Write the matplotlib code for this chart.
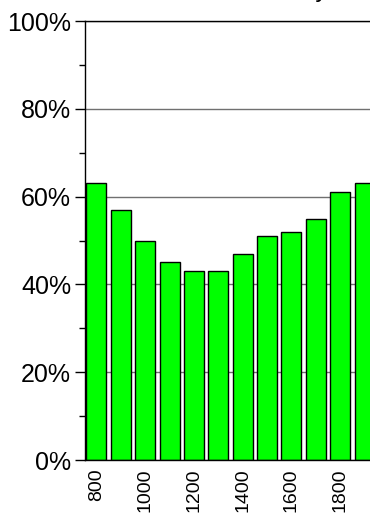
import numpy as np
import matplotlib.pyplot as plt
from matplotlib.ticker import MultipleLocator, PercentFormatter

plt.rcParams['font.family'] = ['Liberation Sans', 'DejaVu Sans']

# data
wavelength = [800, 900, 1000, 1100, 1200, 1300, 1400, 1500, 1600, 1700, 1800, 1900]
share = [63, 57, 50, 45, 43, 43, 47, 51, 52, 55, 61, 63]
tick_labels = ['800', '1000', '1200', '1400', '1600', '1800']

W, H = 370, 517
fig = plt.figure(figsize=(W / 100, H / 100), dpi=100)
# axes run past the right edge of the figure, like the original
ax = fig.add_axes([85 / W, 57 / H, 291 / W, 439 / H])

ax.bar(wavelength, share, width=82, color='#00ff00', edgecolor='black',
       linewidth=1.0, zorder=2)

ax.set_xlim(753, 1947)
ax.set_ylim(0, 100)
ax.yaxis.set_major_locator(MultipleLocator(20))
ax.yaxis.set_minor_locator(MultipleLocator(10))
ax.yaxis.set_major_formatter(PercentFormatter(decimals=0))
ax.grid(axis='y', which='major', color='#707070', linewidth=1.0, zorder=0)
ax.set_axisbelow(True)

ax.set_xticks([int(t) for t in tick_labels])
ax.set_xticklabels(tick_labels, rotation=90, fontsize=14)
ax.tick_params(axis='x', length=0, pad=6)
ax.tick_params(axis='y', which='major', length=7, width=1, labelsize=18, pad=3)
ax.tick_params(axis='y', which='minor', length=4, width=1)

for s in ['left', 'top', 'bottom']:
    ax.spines[s].set_color('black')
    ax.spines[s].set_linewidth(1.0)
ax.spines['right'].set_visible(False)

# title sits mostly above the top edge, only the tail of the "y" shows
fig.text(328 / W, 1 + 3.5 / H, 'Relative humidity', ha='right', va='baseline',
         fontsize=18)

fig.savefig('out.png', dpi=100)
